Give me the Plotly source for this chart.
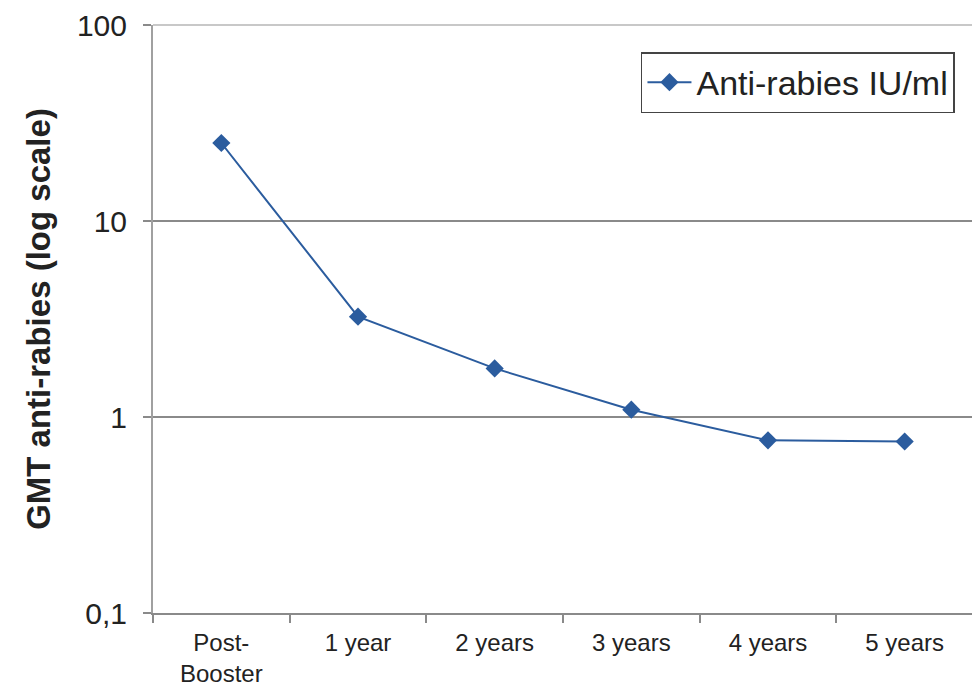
import plotly.graph_objects as go

categories = ["Post-<br>Booster", "1 year", "2 years", "3 years", "4 years", "5 years"]
gmt_values = [25.0, 3.25, 1.77, 1.09, 0.76, 0.75]
series_name = "Anti-rabies IU/ml"
y_tickvals = [0.1, 1, 10, 100]
y_ticktext = ["0,1", "1", "10", "100"]

FONT = "Arial, Liberation Sans, sans-serif"
LINE_COLOR = "#2b5c9e"

fig = go.Figure()
fig.add_trace(go.Scatter(
    x=categories, y=gmt_values, name=series_name, mode="lines+markers",
    line=dict(color=LINE_COLOR, width=2),
    marker=dict(symbol="diamond", size=14, color=LINE_COLOR),
    showlegend=True,
))

# page body has an 8px default margin; compensate so the plot area sits at
# x 153..973, y 25..613 in the 980x691 window
fig.update_layout(
    width=972, height=683,
    margin=dict(l=145, r=7, t=17, b=78),
    paper_bgcolor="white", plot_bgcolor="white",
    font=dict(family=FONT, color="#222"),
    showlegend=True,
    legend=dict(
        x=0.978, y=0.954, xanchor="right", yanchor="top",
        bordercolor="#444", borderwidth=1.5, bgcolor="white",
        font=dict(size=34, family=FONT, color="#222"),
        itemwidth=44, tracegroupgap=0,
    ),
    xaxis=dict(
        type="category", tickson="boundaries", automargin=False,
        showline=True, linecolor="#8a8a8a", linewidth=2,
        ticks="outside", ticklen=8, tickcolor="#8a8a8a", tickwidth=2,
        showgrid=False, zeroline=False,
        tickfont=dict(size=24, family=FONT, color="#222"),
        ticklabelstandoff=7,
        range=[-0.5, 5.5],
    ),
    yaxis=dict(
        type="log", range=[-1, 2], automargin=False,
        tickvals=y_tickvals, ticktext=y_ticktext,
        showline=True, linecolor="#a0a0a0", linewidth=2,
        ticks="outside", ticklen=8, tickcolor="#8a8a8a", tickwidth=2,
        showgrid=True, gridcolor="#8a8a8a", gridwidth=2,
        zeroline=False,
        tickfont=dict(size=30, family=FONT, color="#222"),
        ticklabelstandoff=10,
        title=dict(text="<b>GMT anti-rabies (log scale)</b>",
                   font=dict(size=33, family=FONT, color="#222"), standoff=16),
    ),
    shapes=[
        dict(type="line", xref="paper", yref="paper", x0=0, x1=1, y0=1, y1=1,
             line=dict(color="#c8c8c8", width=2), layer="above"),
        dict(type="line", xref="paper", yref="paper", x0=1, x1=1, y0=0, y1=1,
             line=dict(color="#c8c8c8", width=2), layer="above"),
    ],
)

fig.write_html("out.html")
